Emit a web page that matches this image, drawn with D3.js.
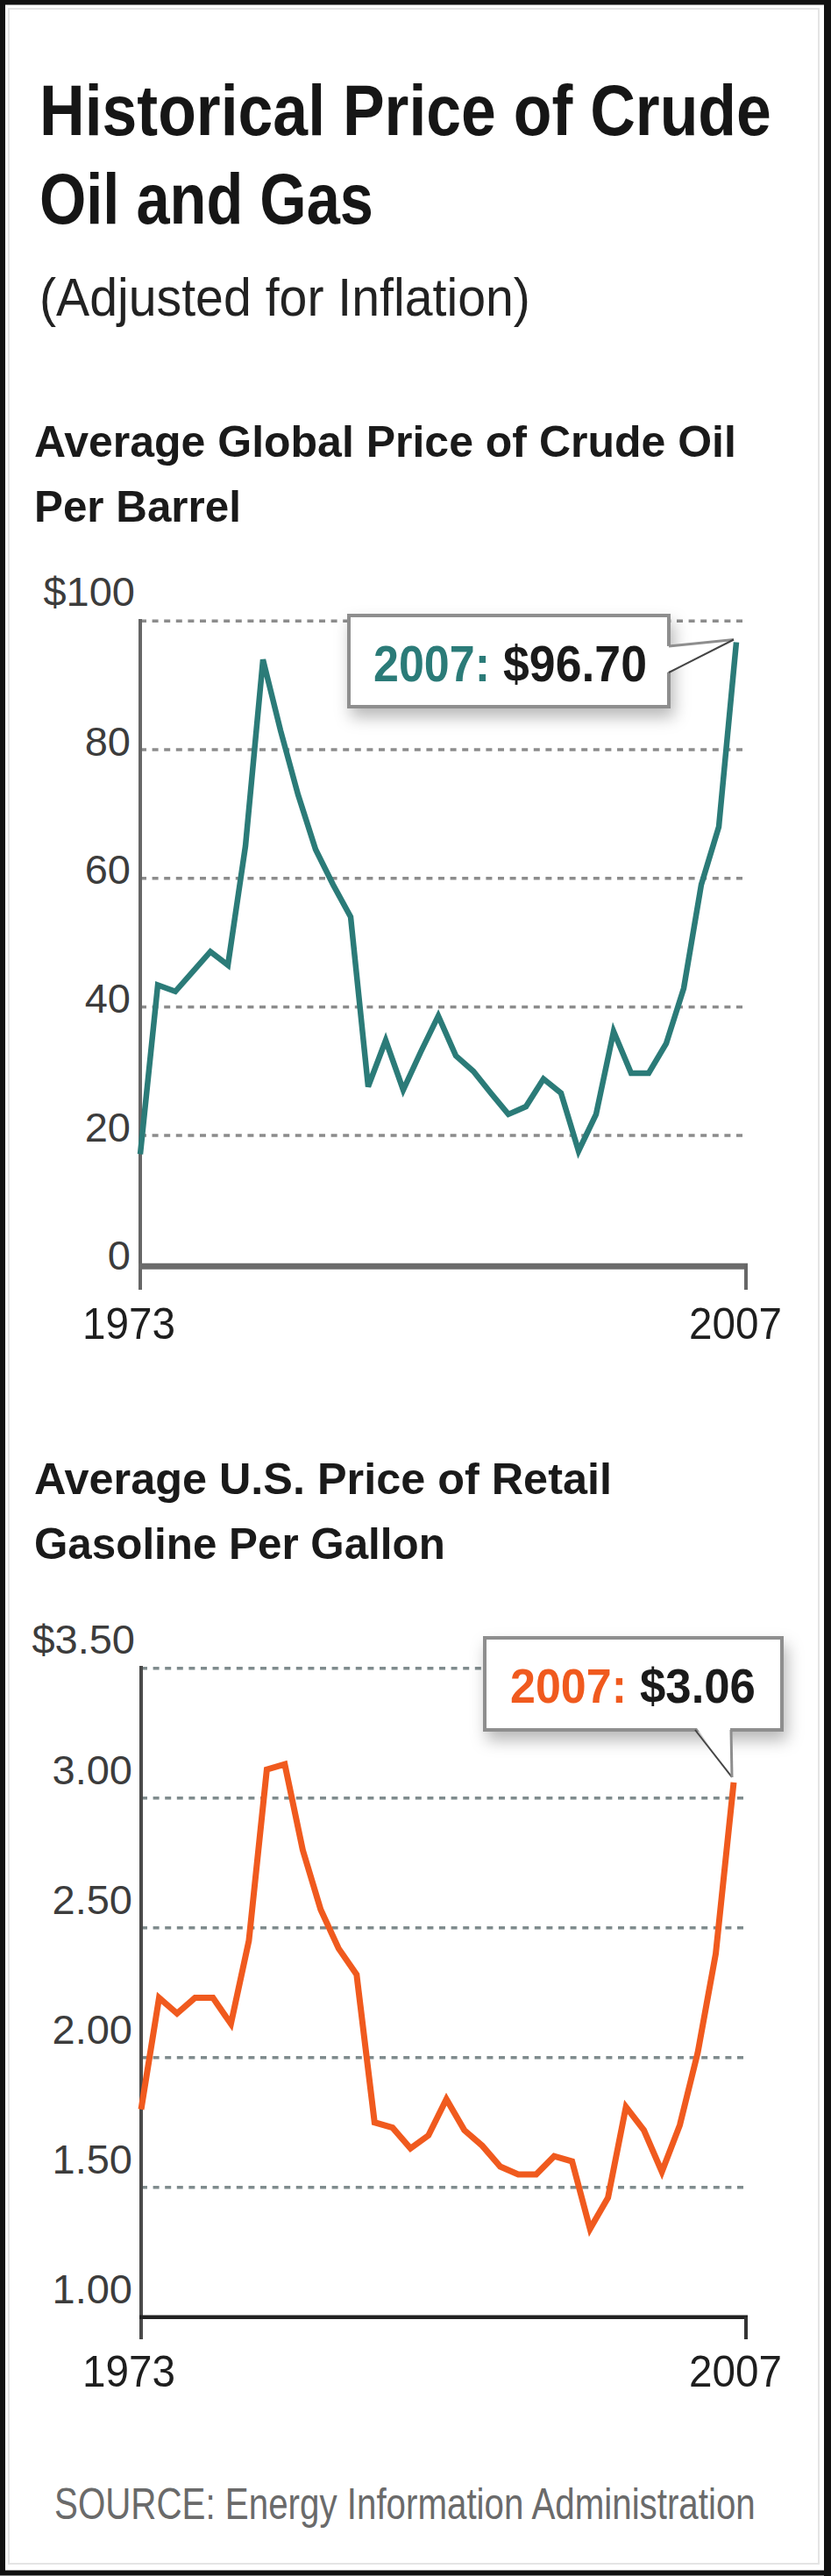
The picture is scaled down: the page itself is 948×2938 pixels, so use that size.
<!DOCTYPE html>
<html><head><meta charset="utf-8">
<script src="https://cdn.jsdelivr.net/npm/d3@7"></script>
<style>body{margin:0;background:#fff}svg{display:block}</style>
</head><body>
<svg id="c" width="948" height="2938"></svg>
<script>
// ---------- DATA ----------
const oilYears = d3.range(1973, 2008); // 1973..2007
const oilPrices = [17.1, 43.4, 42.4, 45.5, 48.6, 46.5, 65, 94, 83, 73, 64.5, 59, 54,
  27.6, 34.8, 27.1, 33, 38.6, 32.4, 30, 26.6, 23.3, 24.5, 28.8, 26.6, 17.6, 23.3,
  36.2, 29.7, 29.7, 34.3, 42.9, 59, 68, 96.7];
const gasPrices = [1.80, 2.23, 2.17, 2.23, 2.23, 2.13, 2.45, 3.11, 3.13, 2.80, 2.57,
  2.42, 2.32, 1.75, 1.73, 1.65, 1.70, 1.84, 1.72, 1.66, 1.58, 1.55, 1.55, 1.62, 1.60,
  1.34, 1.46, 1.81, 1.72, 1.56, 1.74, 2.02, 2.40, 3.06];
const oilTicks = [0, 20, 40, 60, 80, 100];
const oilTickLabels = ["0", "20", "40", "60", "80", "$100"];
const gasTicks = [1.0, 1.5, 2.0, 2.5, 3.0, 3.5];
const gasTickLabels = ["1.00", "1.50", "2.00", "2.50", "3.00", "$3.50"];
const xEndLabels = ["1973", "2007"];
const oilCallout = ["2007:", "$96.70"];
const gasCallout = ["2007:", "$3.06"];

const TEAL = "#2b7b78", ORANGE = "#f05a1e";
const FONT = "'Liberation Sans', Arial, Helvetica, sans-serif";

const svg = d3.select("#c");
const defs = svg.append("defs");
const f = defs.append("filter").attr("id", "sh").attr("x", "-20%").attr("y", "-30%").attr("width", "150%").attr("height", "180%");
f.append("feDropShadow").attr("dx", 4).attr("dy", 10).attr("stdDeviation", 9).attr("flood-color", "#000").attr("flood-opacity", 0.28);

// frame
svg.append("rect").attr("x", 0).attr("y", 0).attr("width", 948).attr("height", 2938).attr("fill", "#fff");
svg.append("rect").attr("x", 10).attr("y", 10).attr("width", 924).attr("height", 2914)
  .attr("fill", "none").attr("stroke", "#e4e4e4").attr("stroke-width", 2);
svg.append("rect").attr("x", 3).attr("y", 2.5).attr("width", 940).attr("height", 2932)
  .attr("fill", "none").attr("stroke", "#111").attr("stroke-width", 6);
svg.append("rect").attr("x", 940).attr("y", 0).attr("width", 8).attr("height", 2938).attr("fill", "#111");

// text placed at (x,y) and squeezed horizontally to the measured width
function txt(t, x, y, size, weight, fill, len) {
  const g = svg.append("g").attr("transform", `translate(${x},${y})`);
  const e = g.append("text").attr("x", 0).attr("y", 0).text(t)
    .attr("font-family", FONT).attr("font-size", size).attr("font-weight", weight)
    .attr("fill", fill);
  if (len) {
    const w = e.node().getComputedTextLength();
    if (w > 0) e.attr("transform", `scale(${len / w},1)`);
  }
  return e;
}

// titles
txt("Historical Price of Crude", 45, 154, 82, "bold", "#161616", 835);
txt("Oil and Gas", 45, 255, 82, "bold", "#161616", 381);
txt("(Adjusted for Inflation)", 45, 360, 62, "normal", "#222", 560);
txt("Average Global Price of Crude Oil", 39, 521, 50, "bold", "#1a1a1a", 801);
txt("Per Barrel", 39, 595, 50, "bold", "#1a1a1a", 236);
txt("Average U.S. Price of Retail", 39, 1704, 50, "bold", "#1a1a1a", 659);
txt("Gasoline Per Gallon", 39, 1778, 50, "bold", "#1a1a1a", 469);
txt("SOURCE: Energy Information Administration", 62, 2873, 50, "normal", "#6a6a6a", 800);

// ---------- OIL CHART ----------
const xo = d3.scaleLinear().domain([1973, 2007]).range([160, 840]);
const yo = d3.scaleLinear().domain([0, 100]).range([1441.8, 708.3]);
const oilG = svg.append("g");
oilG.selectAll("line.grid").data(oilTicks.filter(d => d > 0)).enter().append("line")
  .attr("x1", 160).attr("x2", 852).attr("y1", d => yo(d)).attr("y2", d => yo(d))
  .attr("stroke", "#8c8c8c").attr("stroke-width", 3.5).attr("stroke-dasharray", "7 6.6");
oilG.selectAll("text.tick").data(oilTicks).enter().append("text")
  .attr("x", d => d === 100 ? 154 : 149)
  .attr("y", d => d === 100 ? yo(d) - 17 : yo(d) + 6.5)
  .attr("text-anchor", "end").attr("font-family", FONT).attr("font-size", 47)
  .attr("fill", "#3c3c3c").text((d, i) => oilTickLabels[i]);
// axes
oilG.append("line").attr("x1", 160).attr("x2", 160).attr("y1", 706).attr("y2", 1471)
  .attr("stroke", "#666").attr("stroke-width", 4);
oilG.append("line").attr("x1", 158).attr("x2", 853).attr("y1", yo(0) + 2.5).attr("y2", yo(0) + 2.5)
  .attr("stroke", "#6b6b6b").attr("stroke-width", 7);
oilG.append("line").attr("x1", 851).attr("x2", 851).attr("y1", yo(0)).attr("y2", 1471)
  .attr("stroke", "#666").attr("stroke-width", 4);
oilG.append("path").datum(oilPrices)
  .attr("d", d3.line().x((d, i) => xo(oilYears[i])).y(d => yo(d)))
  .attr("fill", "none").attr("stroke", TEAL).attr("stroke-width", 6.5)
  .attr("stroke-linejoin", "miter").attr("stroke-miterlimit", 4);
txt(xEndLabels[0], 94, 1527, 50, "normal", "#1e1e1e", 106);
txt(xEndLabels[1], 786, 1527, 50, "normal", "#1e1e1e", 106);

// oil callout
{
  const tipX = xo(2007) - 3, tipY = yo(oilPrices[oilPrices.length - 1]) - 3;
  const g = svg.append("g");
  g.append("rect").attr("x", 398).attr("y", 702).attr("width", 365).attr("height", 104)
    .attr("fill", "#fff").attr("stroke", "#8e8e8e").attr("stroke-width", 4).attr("filter", "url(#sh)");
  g.append("path").attr("d", `M761,737 L${tipX},${tipY} L761,767 Z`).attr("fill", "#fff").attr("stroke", "none");
  g.append("path").attr("d", `M763,737 L${tipX},${tipY}`).attr("stroke", "#8e8e8e").attr("stroke-width", 3).attr("fill", "none");
  g.append("path").attr("d", `M763,767 L${tipX},${tipY}`).attr("stroke", "#444").attr("stroke-width", 2).attr("fill", "none");
  txt(oilCallout[0], 426, 777, 57, "bold", TEAL, 133);
  txt(oilCallout[1], 574, 777, 57, "bold", "#1a1a1a", 164);
}

// ---------- GAS CHART ----------
const xg = d3.scaleLinear().domain([0, gasPrices.length - 1]).range([161, 837]);
const yg = d3.scaleLinear().domain([1, 3.5]).range([2642.7, 1902.7]);
const gasG = svg.append("g");
gasG.selectAll("line.grid").data(gasTicks.filter(d => d > 1)).enter().append("line")
  .attr("x1", 161).attr("x2", 849).attr("y1", d => yg(d)).attr("y2", d => yg(d))
  .attr("stroke", "#7f8b8d").attr("stroke-width", 3.5).attr("stroke-dasharray", "7 6.6");
gasG.selectAll("text.tick").data(gasTicks).enter().append("text")
  .attr("x", d => d === 3.5 ? 154 : 151)
  .attr("y", d => d === 3.5 ? yg(d) - 17 : yg(d) - 16)
  .attr("text-anchor", "end").attr("font-family", FONT).attr("font-size", 47)
  .attr("fill", "#3c3c3c").text((d, i) => gasTickLabels[i]);
gasG.append("line").attr("x1", 161).attr("x2", 161).attr("y1", 1900).attr("y2", 2668)
  .attr("stroke", "#4a4a4a").attr("stroke-width", 4);
gasG.append("line").attr("x1", 159).attr("x2", 853).attr("y1", yg(1)).attr("y2", yg(1))
  .attr("stroke", "#222").attr("stroke-width", 4.5);
gasG.append("line").attr("x1", 851).attr("x2", 851).attr("y1", yg(1)).attr("y2", 2668)
  .attr("stroke", "#333").attr("stroke-width", 4);
gasG.append("path").datum(gasPrices)
  .attr("d", d3.line().x((d, i) => xg(i)).y(d => yg(d)))
  .attr("fill", "none").attr("stroke", ORANGE).attr("stroke-width", 7)
  .attr("stroke-linejoin", "miter").attr("stroke-miterlimit", 4);
txt(xEndLabels[0], 94, 2722, 50, "normal", "#1e1e1e", 106);
txt(xEndLabels[1], 786, 2722, 50, "normal", "#1e1e1e", 106);

// gas callout
{
  const tipX = xg(gasPrices.length - 1) - 2, tipY = yg(gasPrices[gasPrices.length - 1]) - 6;
  const g = svg.append("g");
  g.append("rect").attr("x", 553).attr("y", 1868).attr("width", 339).attr("height", 105)
    .attr("fill", "#fff").attr("stroke", "#8e8e8e").attr("stroke-width", 4).attr("filter", "url(#sh)");
  g.append("path").attr("d", `M795,1971 L${tipX},${tipY} L833,1971 Z`).attr("fill", "#fff").attr("stroke", "none");
  g.append("path").attr("d", `M793,1973 L${tipX},${tipY}`).attr("stroke", "#444").attr("stroke-width", 2).attr("fill", "none");
  g.append("path").attr("d", `M834,1973 L${tipX},${tipY}`).attr("stroke", "#8e8e8e").attr("stroke-width", 3).attr("fill", "none");
  txt(gasCallout[0], 582, 1942, 56, "bold", ORANGE, 133);
  txt(gasCallout[1], 730, 1942, 56, "bold", "#1a1a1a", 132);
}
</script>
</body></html>
